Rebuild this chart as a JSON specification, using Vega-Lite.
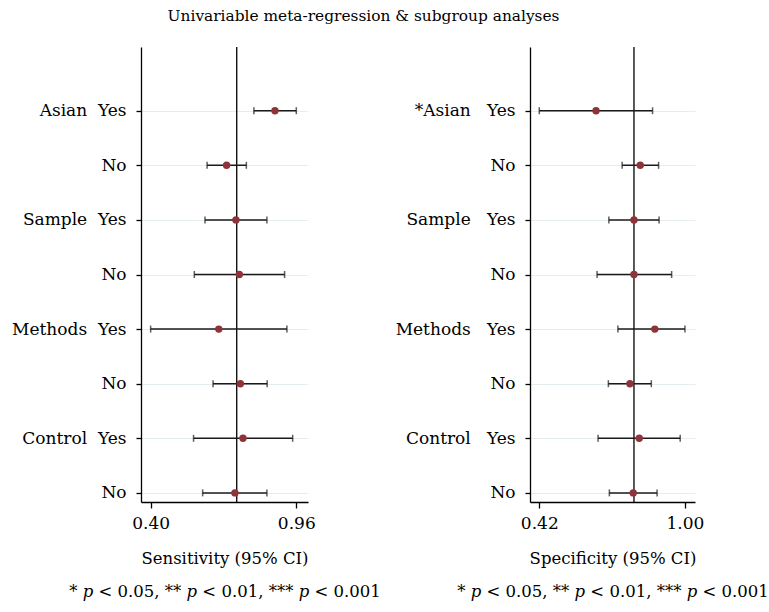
{
  "$schema": "https://vega.github.io/schema/vega-lite/v6.json",
  "background": "white",
  "padding": {"left": 11, "top": 8, "right": 0, "bottom": 5},
  "title": {"text": "Univariable meta-regression & subgroup analyses", "font": "DejaVu Serif", "fontSize": 15.4, "fontWeight": "normal", "color": "black", "anchor": "start", "frame": "bounds", "dx": 156, "offset": 22},
  "bounds": "flush",
  "spacing": 222,
  "config": {
    "view": {"stroke": null},
    "axis": {"labelFont": "DejaVu Serif", "labelFontSize": 17, "labelColor": "black", "titleFont": "DejaVu Serif", "titleFontSize": 16.5, "titleFontWeight": "normal", "titleColor": "black", "domainColor": "black", "domainWidth": 1.3, "tickColor": "black", "tickWidth": 1.3}
  },
  "datasets": {
    "est": [
      {"measure": "Sensitivity", "row": "1|Asian\u00a0\u00a0Yes", "est": 0.878, "lo": 0.797, "hi": 0.960},
      {"measure": "Sensitivity", "row": "2|No", "est": 0.692, "lo": 0.617, "hi": 0.768},
      {"measure": "Sensitivity", "row": "3|Sample\u00a0\u00a0Yes", "est": 0.728, "lo": 0.609, "hi": 0.847},
      {"measure": "Sensitivity", "row": "4|No", "est": 0.741, "lo": 0.568, "hi": 0.915},
      {"measure": "Sensitivity", "row": "5|Methods\u00a0\u00a0Yes", "est": 0.662, "lo": 0.400, "hi": 0.924},
      {"measure": "Sensitivity", "row": "6|No", "est": 0.745, "lo": 0.640, "hi": 0.848},
      {"measure": "Sensitivity", "row": "7|Control\u00a0\u00a0Yes", "est": 0.755, "lo": 0.565, "hi": 0.946},
      {"measure": "Sensitivity", "row": "8|No", "est": 0.724, "lo": 0.600, "hi": 0.847},
      {"measure": "Specificity", "row": "1|*Asian\u00a0\u00a0\u00a0Yes", "est": 0.646, "lo": 0.420, "hi": 0.871},
      {"measure": "Specificity", "row": "2|No", "est": 0.822, "lo": 0.750, "hi": 0.895},
      {"measure": "Specificity", "row": "3|Sample\u00a0\u00a0\u00a0Yes", "est": 0.797, "lo": 0.697, "hi": 0.897},
      {"measure": "Specificity", "row": "4|No", "est": 0.797, "lo": 0.650, "hi": 0.947},
      {"measure": "Specificity", "row": "5|Methods\u00a0\u00a0\u00a0Yes", "est": 0.880, "lo": 0.733, "hi": 1.000},
      {"measure": "Specificity", "row": "6|No", "est": 0.781, "lo": 0.695, "hi": 0.866},
      {"measure": "Specificity", "row": "7|Control\u00a0\u00a0\u00a0Yes", "est": 0.818, "lo": 0.654, "hi": 0.981},
      {"measure": "Specificity", "row": "8|No", "est": 0.794, "lo": 0.699, "hi": 0.889}
    ],
    "ref": [
      {"measure": "Sensitivity", "value": 0.731},
      {"measure": "Specificity", "value": 0.797}
    ]
  },
  "hconcat": [
    {
      "width": 167,
      "height": 455,
      "layer": [
        {
          "data": {"name": "ref"},
          "transform": [{"filter": "datum.measure === 'Sensitivity'"}],
          "mark": {"type": "rule", "color": "black", "strokeWidth": 1.3},
          "encoding": {"x": {"field": "value", "type": "quantitative", "scale": {"domain": [0.363, 1.005], "nice": false, "zero": false}}}
        },
        {
          "data": {"name": "est"},
          "transform": [{"filter": "datum.measure === 'Sensitivity'"}],
          "encoding": {
            "y": {"field": "row", "type": "ordinal", "scale": {"type": "point", "padding": 0.167, "domain": ["0|", "1|Asian\u00a0\u00a0Yes", "2|No", "3|Sample\u00a0\u00a0Yes", "4|No", "5|Methods\u00a0\u00a0Yes", "6|No", "7|Control\u00a0\u00a0Yes", "8|No"]},
              "axis": {"title": null, "labelExpr": "split(datum.value, '|')[1]", "labelPadding": 10, "tickSize": 5, "grid": true, "gridColor": "#e6edf1", "gridWidth": 1.2,
                "tickOpacity": {"condition": {"test": "datum.value === '0|'", "value": 0}, "value": 1},
                "gridOpacity": {"condition": {"test": "datum.value === '0|'", "value": 0}, "value": 1}}}
          },
          "layer": [
            {
              "mark": {"type": "rule", "color": "#1a1a1a", "strokeWidth": 1.5},
              "encoding": {
                "x": {"field": "lo", "type": "quantitative", "scale": {"domain": [0.363, 1.005], "nice": false, "zero": false},
                  "axis": {"values": [0.4, 0.96], "format": ".2f", "grid": false, "labelFlush": false, "tickSize": 6, "labelPadding": 7, "titlePadding": 19, "titleLineHeight": 33,
                    "title": ["Sensitivity (95% CI)", "* 𝑝 < 0.05, ** 𝑝 < 0.01, *** 𝑝 < 0.001"]}},
                "x2": {"field": "hi"}
              }
            },
            {
              "mark": {"type": "tick", "color": "#1a1a1a", "thickness": 1.5, "size": 7, "orient": "vertical"},
              "encoding": {"x": {"field": "lo", "type": "quantitative", "scale": {"domain": [0.363, 1.005], "nice": false, "zero": false}}}
            },
            {
              "mark": {"type": "tick", "color": "#1a1a1a", "thickness": 1.5, "size": 7, "orient": "vertical"},
              "encoding": {"x": {"field": "hi", "type": "quantitative", "scale": {"domain": [0.363, 1.005], "nice": false, "zero": false}}}
            },
            {
              "mark": {"type": "circle", "color": "#8e3439", "opacity": 1, "size": 55},
              "encoding": {"x": {"field": "est", "type": "quantitative", "scale": {"domain": [0.363, 1.005], "nice": false, "zero": false}}}
            }
          ]
        }
      ]
    },
    {
      "width": 165,
      "height": 455,
      "layer": [
        {
          "data": {"name": "ref"},
          "transform": [{"filter": "datum.measure === 'Specificity'"}],
          "mark": {"type": "rule", "color": "black", "strokeWidth": 1.3},
          "encoding": {"x": {"field": "value", "type": "quantitative", "scale": {"domain": [0.383, 1.04], "nice": false, "zero": false}}}
        },
        {
          "data": {"name": "est"},
          "transform": [{"filter": "datum.measure === 'Specificity'"}],
          "encoding": {
            "y": {"field": "row", "type": "ordinal", "scale": {"type": "point", "padding": 0.167, "domain": ["0|", "1|*Asian\u00a0\u00a0\u00a0Yes", "2|No", "3|Sample\u00a0\u00a0\u00a0Yes", "4|No", "5|Methods\u00a0\u00a0\u00a0Yes", "6|No", "7|Control\u00a0\u00a0\u00a0Yes", "8|No"]},
              "axis": {"title": null, "labelExpr": "split(datum.value, '|')[1]", "labelPadding": 10, "tickSize": 5, "grid": true, "gridColor": "#e6edf1", "gridWidth": 1.2,
                "tickOpacity": {"condition": {"test": "datum.value === '0|'", "value": 0}, "value": 1},
                "gridOpacity": {"condition": {"test": "datum.value === '0|'", "value": 0}, "value": 1}}}
          },
          "layer": [
            {
              "mark": {"type": "rule", "color": "#1a1a1a", "strokeWidth": 1.5},
              "encoding": {
                "x": {"field": "lo", "type": "quantitative", "scale": {"domain": [0.383, 1.04], "nice": false, "zero": false},
                  "axis": {"values": [0.42, 1.0], "format": ".2f", "grid": false, "labelFlush": false, "tickSize": 6, "labelPadding": 7, "titlePadding": 19, "titleLineHeight": 33,
                    "title": ["Specificity (95% CI)", "* 𝑝 < 0.05, ** 𝑝 < 0.01, *** 𝑝 < 0.001"]}},
                "x2": {"field": "hi"}
              }
            },
            {
              "mark": {"type": "tick", "color": "#1a1a1a", "thickness": 1.5, "size": 7, "orient": "vertical"},
              "encoding": {"x": {"field": "lo", "type": "quantitative", "scale": {"domain": [0.383, 1.04], "nice": false, "zero": false}}}
            },
            {
              "mark": {"type": "tick", "color": "#1a1a1a", "thickness": 1.5, "size": 7, "orient": "vertical"},
              "encoding": {"x": {"field": "hi", "type": "quantitative", "scale": {"domain": [0.383, 1.04], "nice": false, "zero": false}}}
            },
            {
              "mark": {"type": "circle", "color": "#8e3439", "opacity": 1, "size": 55},
              "encoding": {"x": {"field": "est", "type": "quantitative", "scale": {"domain": [0.383, 1.04], "nice": false, "zero": false}}}
            }
          ]
        }
      ]
    }
  ]
}
